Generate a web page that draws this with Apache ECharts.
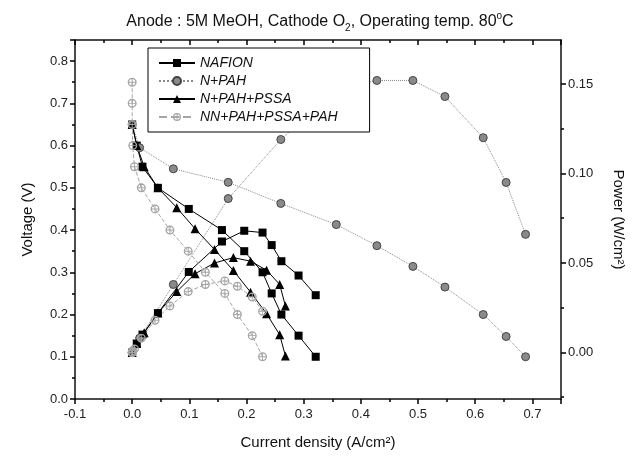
<!DOCTYPE html>
<html>
<head>
<meta charset="utf-8">
<script src="https://cdn.jsdelivr.net/npm/echarts@6/dist/echarts.min.js"></script>
<style>
  html, body { margin: 0; padding: 0; background: #fff; }
  #e1 { width: 640px; height: 464px; }
</style>
</head>
<body>
<div id="e1"></div>
<script>
// current density (A/cm2), voltage (V), power (W/cm2)
var nafionI = [0, 0.008, 0.018, 0.045, 0.099, 0.157, 0.196, 0.228, 0.244, 0.261, 0.291, 0.321];
var nafionV = [0.65, 0.60, 0.55, 0.50, 0.45, 0.40, 0.35, 0.30, 0.25, 0.20, 0.15, 0.10];
var nafionP = [0.000, 0.005, 0.010, 0.022, 0.045, 0.062, 0.068, 0.067, 0.060, 0.051, 0.043, 0.032];

var pahI = [0, 0.013, 0.072, 0.168, 0.260, 0.357, 0.428, 0.491, 0.547, 0.614, 0.654, 0.688];
var pahV = [0.65, 0.595, 0.545, 0.513, 0.463, 0.413, 0.363, 0.314, 0.265, 0.200, 0.148, 0.100];
var pahP = [0.000, 0.008, 0.038, 0.086, 0.119, 0.147, 0.152, 0.152, 0.143, 0.120, 0.095, 0.066];

var pssaI = [0, 0.008, 0.021, 0.045, 0.078, 0.110, 0.144, 0.177, 0.207, 0.235, 0.258, 0.268];
var pssaV = [0.65, 0.60, 0.55, 0.50, 0.453, 0.403, 0.354, 0.304, 0.253, 0.202, 0.152, 0.102];
var pssaP = [0.000, 0.005, 0.011, 0.022, 0.034, 0.044, 0.050, 0.053, 0.051, 0.046, 0.038, 0.026];

var nnI = [0, 0, 0, 0.001, 0.004, 0.016, 0.040, 0.066, 0.098, 0.128, 0.162, 0.184, 0.210, 0.228];
var nnV = [0.75, 0.70, 0.65, 0.60, 0.55, 0.50, 0.45, 0.40, 0.35, 0.30, 0.25, 0.20, 0.15, 0.10];
var nnP = [0.000, 0.000, 0.000, 0.001, 0.002, 0.008, 0.018, 0.026, 0.034, 0.038, 0.040, 0.037, 0.031, 0.023];

var names = ['NAFION', 'N+PAH', 'N+PAH+PSSA', 'NN+PAH+PSSA+PAH'];
var powerTicks = [0, 0.05, 0.10, 0.15];
var powerMinor = [-0.025, 0.025, 0.075, 0.125];

function pairs(xs, ys) {
  return xs.map(function (x, i) { return [x, ys[i]]; });
}

var font = 'Liberation Sans, Arial, sans-serif';

// ring with a cross, like the open markers of the last sample
var crossCircle = 'path://M10,0A10,10 0 1,1 10,20A10,10 0 1,1 10,0Z' +
  'M10,3A7,7 0 1,0 10,17A7,7 0 1,0 10,3Z' +
  'M9,2h2v16h-2Z M2,9h16v2h-16Z';

var styles = [
  { symbol: 'rect', size: 8, item: { color: '#000' }, line: { color: '#000', width: 1, type: 'solid' } },
  { symbol: 'circle', size: 8, item: { color: '#8a8a8a', borderColor: '#444', borderWidth: 1 }, line: { color: '#888', width: 1, type: 'dotted' } },
  { symbol: 'triangle', size: 9, item: { color: '#000' }, line: { color: '#000', width: 1, type: 'solid' } },
  { symbol: crossCircle, size: 9, item: { color: '#a5a5a5' }, line: { color: '#a5a5a5', width: 1, type: 'dashed' } }
];

var sets = [
  [nafionI, nafionV, nafionP],
  [pahI, pahV, pahP],
  [pssaI, pssaV, pssaP],
  [nnI, nnV, nnP]
];

var series = [];
sets.forEach(function (s, k) {
  var st = styles[k];
  [[s[1], 0], [s[2], 1]].forEach(function (part) {
    series.push({
      name: names[k],
      type: 'line',
      yAxisIndex: part[1],
      data: pairs(s[0], part[0]),
      symbol: st.symbol,
      symbolSize: st.size,
      itemStyle: st.item,
      lineStyle: st.line,
      animation: false
    });
  });
});

var tickStyle = { color: '#000', width: 1.5 };
var labelStyle = { color: '#222', fontSize: 13, fontFamily: font };
var nameStyle = { color: '#111', fontSize: 15, fontFamily: font };
var frameLine = { show: true, onZero: false, lineStyle: { color: '#111', width: 1.5 } };

var option = {
  animation: false,
  title: {
    text: 'Anode : 5M MeOH, Cathode O{sub|2}, Operating temp. 80{sup|o}C',
    left: 'center',
    top: 6,
    textStyle: {
      fontSize: 16, fontWeight: 'normal', color: '#111', fontFamily: font, lineHeight: 22,
      rich: {
        sub: { fontSize: 10, fontFamily: font, color: '#111', verticalAlign: 'bottom', lineHeight: 14 },
        sup: { fontSize: 10, fontFamily: font, color: '#111', verticalAlign: 'top', lineHeight: 14 }
      }
    }
  },
  legend: {
    data: names,
    orient: 'vertical',
    left: 148,
    top: 48,
    itemWidth: 36,
    itemHeight: 10,
    itemGap: 4,
    padding: [8, 32, 8, 10],
    borderColor: '#000',
    borderWidth: 1,
    backgroundColor: '#fff',
    textStyle: { fontSize: 14, fontStyle: 'italic', fontFamily: font, color: '#111' }
  },
  grid: { left: 75, right: 79, top: 40, bottom: 65 },
  xAxis: [
    {
      type: 'value', position: 'bottom',
      min: -0.1, max: 0.75, interval: 0.1,
      name: 'Current density (A/cm²)', nameLocation: 'middle', nameGap: 36, nameTextStyle: nameStyle,
      axisLine: frameLine,
      splitLine: { show: false },
      axisTick: { show: true, length: 5, lineStyle: tickStyle },
      minorTick: { show: true, splitNumber: 2, length: 3, lineStyle: tickStyle },
      axisLabel: Object.assign({}, labelStyle, { margin: 9, showMaxLabel: false,
        formatter: function (v) { return v.toFixed(1); } })
    },
    {
      type: 'value', position: 'top',
      min: -0.1, max: 0.75, interval: 0.1,
      axisLine: frameLine,
      splitLine: { show: false },
      axisTick: { show: true, inside: true, length: 5, lineStyle: tickStyle },
      minorTick: { show: true, splitNumber: 2, length: 3, lineStyle: tickStyle },
      axisLabel: { show: false }
    }
  ],
  yAxis: [
    {
      type: 'value', position: 'left',
      min: 0, max: 0.85, interval: 0.1,
      name: 'Voltage (V)', nameLocation: 'middle', nameGap: 40, nameTextStyle: nameStyle,
      axisLine: frameLine,
      splitLine: { show: false },
      axisTick: { show: true, length: 5, lineStyle: tickStyle },
      minorTick: { show: true, splitNumber: 2, length: 3, lineStyle: tickStyle },
      axisLabel: Object.assign({}, labelStyle, { margin: 7, showMaxLabel: false,
        formatter: function (v) { return v.toFixed(1); } })
    },
    {
      type: 'value', position: 'right',
      min: -0.026, max: 0.1746,
      name: 'Power (W/cm²)', nameLocation: 'middle', nameGap: 50, nameRotate: -90, nameTextStyle: nameStyle,
      axisLine: frameLine,
      splitLine: { show: false },
      axisTick: { show: true, length: 5, customValues: powerTicks, lineStyle: tickStyle },
      axisLabel: Object.assign({}, labelStyle, { margin: 7, customValues: powerTicks,
        formatter: function (v) { return v.toFixed(2); } })
    },
    {
      type: 'value', position: 'right',
      min: -0.026, max: 0.1746,
      axisLine: { show: false, onZero: false },
      splitLine: { show: false },
      axisLabel: { show: false },
      axisTick: { show: true, length: 3, customValues: powerMinor, lineStyle: tickStyle }
    }
  ],
  series: series
};

var chart = echarts.init(document.getElementById('e1'));
chart.setOption(option);
</script>
</body>
</html>
